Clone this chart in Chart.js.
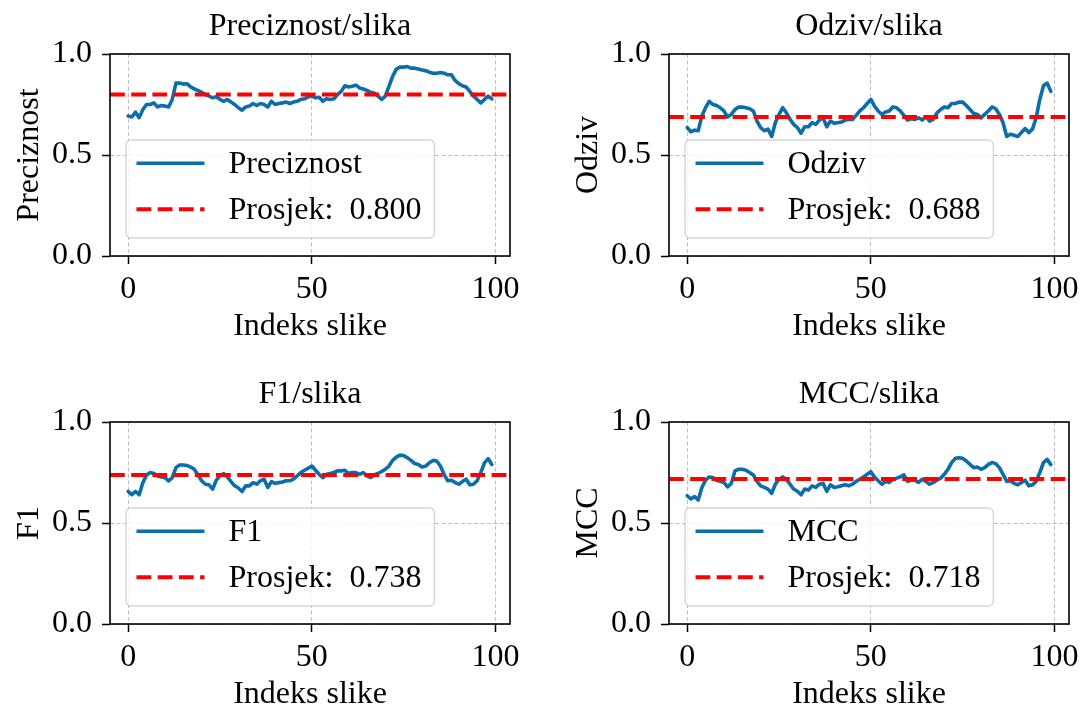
<!DOCTYPE html>
<html><head><meta charset="utf-8">
<script src="https://cdn.jsdelivr.net/npm/chart.js@4.4.0/dist/chart.umd.min.js"></script>
<style>
html,body{margin:0;padding:0;background:#fff;}
body{width:1081px;height:711px;position:relative;overflow:hidden;}
canvas{position:absolute;}
</style></head><body>
<canvas id="c0" width="540" height="355" style="left:0px;top:0px"></canvas>
<canvas id="c1" width="540" height="355" style="left:559px;top:0px"></canvas>
<canvas id="c2" width="540" height="355" style="left:0px;top:368px"></canvas>
<canvas id="c3" width="540" height="355" style="left:559px;top:368px"></canvas>
<script>
// ---- data ----
const imageIndex = Array.from({length: 100}, (_, i) => i);
const preciznost = [0.693,0.688,0.712,0.685,0.725,0.75,0.75,0.758,0.738,0.745,
0.742,0.738,0.775,0.856,0.856,0.851,0.853,0.837,0.827,0.82,
0.81,0.799,0.791,0.783,0.788,0.775,0.766,0.775,0.762,0.75,
0.734,0.722,0.738,0.742,0.755,0.745,0.755,0.75,0.738,0.766,
0.75,0.755,0.758,0.762,0.755,0.762,0.766,0.775,0.778,0.788,
0.791,0.783,0.786,0.766,0.778,0.775,0.778,0.799,0.815,0.843,
0.837,0.84,0.846,0.832,0.827,0.82,0.81,0.807,0.791,0.775,
0.791,0.84,0.889,0.925,0.935,0.935,0.938,0.93,0.93,0.926,
0.921,0.917,0.91,0.905,0.905,0.908,0.905,0.897,0.897,0.869,
0.853,0.843,0.837,0.815,0.791,0.775,0.758,0.775,0.791,0.778];
const odziv = [0.636,0.615,0.623,0.62,0.693,0.734,0.766,0.75,0.745,0.734,
0.718,0.688,0.701,0.725,0.737,0.738,0.734,0.729,0.718,0.668,
0.636,0.62,0.628,0.592,0.66,0.701,0.734,0.709,0.676,0.652,
0.636,0.608,0.64,0.64,0.66,0.652,0.673,0.684,0.64,0.668,
0.657,0.66,0.663,0.673,0.676,0.676,0.696,0.718,0.734,0.755,
0.775,0.742,0.718,0.701,0.713,0.718,0.738,0.734,0.718,0.696,
0.673,0.68,0.676,0.684,0.673,0.69,0.668,0.676,0.709,0.725,
0.738,0.734,0.755,0.755,0.762,0.762,0.745,0.725,0.706,0.701,
0.684,0.701,0.718,0.738,0.729,0.701,0.66,0.592,0.603,0.598,
0.592,0.611,0.631,0.611,0.628,0.684,0.775,0.843,0.856,0.815];
const f1 = [0.656,0.64,0.656,0.64,0.7,0.738,0.75,0.745,0.733,0.728,
0.725,0.709,0.725,0.774,0.787,0.787,0.785,0.777,0.766,0.738,
0.709,0.692,0.689,0.668,0.712,0.733,0.745,0.728,0.705,0.684,
0.673,0.656,0.684,0.684,0.7,0.692,0.709,0.717,0.676,0.705,
0.696,0.7,0.703,0.709,0.709,0.717,0.733,0.75,0.761,0.771,
0.782,0.761,0.741,0.725,0.741,0.745,0.75,0.758,0.758,0.761,
0.745,0.75,0.75,0.741,0.75,0.733,0.725,0.738,0.745,0.755,
0.766,0.782,0.81,0.826,0.836,0.834,0.823,0.81,0.794,0.79,
0.777,0.782,0.798,0.81,0.807,0.782,0.741,0.709,0.712,0.7,
0.692,0.705,0.717,0.689,0.692,0.709,0.75,0.798,0.819,0.79];
const mcc = [0.635,0.619,0.631,0.614,0.676,0.712,0.728,0.725,0.712,0.706,
0.701,0.679,0.696,0.758,0.766,0.766,0.761,0.75,0.738,0.706,
0.684,0.676,0.668,0.647,0.692,0.717,0.728,0.717,0.692,0.668,
0.657,0.64,0.668,0.663,0.684,0.676,0.692,0.696,0.657,0.689,
0.676,0.679,0.684,0.689,0.684,0.692,0.706,0.717,0.728,0.741,
0.754,0.728,0.709,0.692,0.706,0.701,0.717,0.722,0.728,0.738,
0.706,0.712,0.712,0.701,0.717,0.706,0.692,0.701,0.712,0.722,
0.741,0.766,0.799,0.82,0.823,0.82,0.807,0.79,0.774,0.777,
0.766,0.774,0.79,0.799,0.794,0.774,0.741,0.706,0.709,0.696,
0.689,0.701,0.712,0.684,0.689,0.706,0.75,0.799,0.815,0.789];
const means = [0.800, 0.688, 0.738, 0.718];
const metricNames = ['Preciznost', 'Odziv', 'F1', 'MCC'];
const titles = ['Preciznost/slika', 'Odziv/slika', 'F1/slika', 'MCC/slika'];
const xAxisLabel = 'Indeks slike';
const meanLabel = 'Prosjek:';
const xTickValues = [0, 50, 100];
const xTickLabels = ['0', '50', '100'];
const yTickValues = [0, 0.5, 1.0];
const yTickLabels = ['0.0', '0.5', '1.0'];
const seriesList = [preciznost, odziv, f1, mcc];

// ---- style ----
const FONT_FAMILY = '"Liberation Serif", "Times New Roman", "DejaVu Serif", serif';
const FS = 32;
const font = {family: FONT_FAMILY, size: FS, weight: 'normal', lineHeight: 1.2};
const BLUE = '#0a6eaa';
const RED = '#ff0000';
const GRID = '#b8b8b8';
const GRID_DASH = [4, 2.5];

const span = imageIndex[imageIndex.length - 1] - imageIndex[0];
const X_MIN = imageIndex[0] - 0.05 * span;
const X_MAX = imageIndex[imageIndex.length - 1] + 0.05 * span;

const framePlugin = {
  id: 'frameAndLegend',
  afterDatasetsDraw(chart) {
    const {ctx, chartArea: a} = chart;
    ctx.save();
    ctx.strokeStyle = '#000';
    ctx.lineWidth = 1.6;
    ctx.setLineDash([]);
    ctx.strokeRect(a.left, a.top, a.right - a.left, a.bottom - a.top);

    // legend box (lower left)
    const ds = chart.data.datasets;
    ctx.font = `${FS}px ${FONT_FAMILY}`;
    const textW = Math.max(...ds.map(d => ctx.measureText(d.label).width));
    const padL = 10.5, handleLen = 68, gap = 24, padR = 13;
    const w = padL + handleLen + gap + textW + padR;
    const h = 98;
    const x0 = a.left + 16, y0 = a.bottom - 18 - h;
    const r = 5;
    ctx.beginPath();
    ctx.moveTo(x0 + r, y0);
    ctx.arcTo(x0 + w, y0, x0 + w, y0 + h, r);
    ctx.arcTo(x0 + w, y0 + h, x0, y0 + h, r);
    ctx.arcTo(x0, y0 + h, x0, y0, r);
    ctx.arcTo(x0, y0, x0 + w, y0, r);
    ctx.closePath();
    ctx.fillStyle = 'rgba(255,255,255,0.8)';
    ctx.fill();
    ctx.strokeStyle = 'rgba(204,204,204,0.8)';
    ctx.lineWidth = 1.5;
    ctx.stroke();
    ds.forEach((d, i) => {
      const cy = y0 + 23.3 + i * 46;
      ctx.beginPath();
      ctx.setLineDash(d.borderDash || []);
      ctx.strokeStyle = d.borderColor;
      ctx.lineWidth = d.borderWidth;
      ctx.moveTo(x0 + padL, cy);
      ctx.lineTo(x0 + padL + handleLen, cy);
      ctx.stroke();
      ctx.setLineDash([]);
      ctx.fillStyle = '#000';
      ctx.textAlign = 'left';
      ctx.textBaseline = 'middle';
      ctx.fillText(d.label, x0 + padL + handleLen + gap, cy + 1.5);
    });
    ctx.restore();
  }
};

function makeChart(k) {
  const values = seriesList[k];
  const mean = means[k];
  const ctx = document.getElementById('c' + k);
  return new Chart(ctx, {
    type: 'line',
    data: {
      datasets: [
        {
          label: metricNames[k],
          data: imageIndex.map((x, i) => ({x: x, y: values[i]})),
          borderColor: BLUE, borderWidth: 3.6, pointRadius: 0, tension: 0,
          borderJoinStyle: 'round', borderCapStyle: 'round', order: 2
        },
        {
          label: meanLabel + '  ' + mean.toFixed(3),
          data: [{x: X_MIN, y: mean}, {x: X_MAX, y: mean}],
          borderColor: RED, borderWidth: 4, borderDash: [14.8, 6.4], pointRadius: 0, order: 1
        }
      ]
    },
    options: {
      responsive: false, animation: false, devicePixelRatio: 1,
      layout: {padding: {left: 0, right: 30, top: 0, bottom: 0}},
      plugins: {
        legend: {display: false},
        tooltip: {enabled: false},
        title: {display: true, text: titles[k], font: font, color: '#000',
                fullSize: false, padding: {top: 7.8, bottom: 7.8}}
      },
      scales: {
        x: {
          type: 'linear', min: X_MIN, max: X_MAX,
          afterBuildTicks: s => { s.ticks = xTickValues.map(v => ({value: v})); },
          afterFit: s => { s.height = 99; },
          ticks: {font: font, color: '#000', padding: 6.3, maxRotation: 0, autoSkip: false,
                  callback: v => xTickLabels[xTickValues.indexOf(v)]},
          grid: {color: GRID, lineWidth: 0.9, borderDash: GRID_DASH, tickColor: '#000',
                 tickWidth: 1.5, tickLength: 8, drawTicks: true, drawOnChartArea: true},
          border: {display: false, dash: GRID_DASH},
          title: {display: true, text: xAxisLabel, font: font, color: '#000',
                  padding: {top: 0, bottom: 8.8}}
        },
        y: {
          type: 'linear', min: 0, max: 1,
          afterBuildTicks: s => { s.ticks = yTickValues.map(v => ({value: v})); },
          afterFit: s => { s.width = 110; },
          ticks: {font: font, color: '#000', padding: 10,
                  callback: v => yTickLabels[yTickValues.indexOf(v)]},
          grid: {color: GRID, lineWidth: 0.9, borderDash: GRID_DASH, tickColor: '#000',
                 tickWidth: 1.5, tickLength: 8, drawTicks: true, drawOnChartArea: true},
          border: {display: false, dash: GRID_DASH},
          title: {display: true, text: metricNames[k], font: font, color: '#000',
                  padding: {top: 10.8, bottom: 0}}
        }
      }
    },
    plugins: [framePlugin]
  });
}
[0, 1, 2, 3].forEach(makeChart);
</script>
</body></html>
